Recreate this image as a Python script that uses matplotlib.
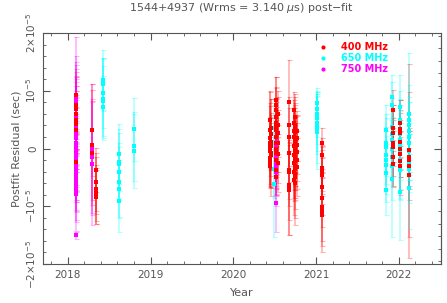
import numpy as np
import matplotlib
matplotlib.use('Agg')
import matplotlib.pyplot as plt
from matplotlib.ticker import MultipleLocator, FixedLocator

# residuals in microseconds, grouped by observing epoch (decimal year)
t400 = [2018.10, 2018.29, 2018.34, 2020.44, 2020.46, 2020.52, 2020.54,
        2020.67, 2020.73, 2020.75, 2020.77, 2021.07, 2021.93, 2022.02, 2022.12]
r400 = [[9.2, 7.5, 6.8, 6.0, 5.0, 4.2, 3.2, -2.3],
        [3.2, 0.6, -0.8],
        [-3.7, -5.8, -7.0, -7.4, -7.9, -8.4],
        [4.9, 3.2, 1.8, 0.9, 0.2, -0.5, -1.7, -2.3, -3.0],
        [3.5, 2.5, 1.2, 0.5, -0.8, -1.2],
        [8.4, 7.5, 6.6, 5.5, 4.5, 3.8, 3.2, 2.0, 0.9, 0.0, -0.8, -2.0, -3.8, -4.9],
        [6.0, 4.0, 2.6, 1.0, -1.0, -2.5],
        [8.1, 4.0, 2.0, -0.8, -3.8, -4.0, -6.4, -7.2, -6.8],
        [6.6, 4.4, 3.0, 2.0, 0.5, -1.2, -2.5, -4.1, -5.5],
        [5.5, 4.0, 3.5, 2.8, 1.5, 0.8, 0.0, -0.5, -1.5, -2.2, -3.0, -3.6, -4.5, -5.0, -6.0],
        [3.0, 1.8, 0.6, -0.6, -2.0, -3.2],
        [1.0, -1.2, -3.4, -3.8, -4.2, -4.6, -6.6, -8.6, -10.1, -10.9, -11.5],
        [6.6, 3.5, 2.6, 1.0, 0.2, -1.5, -2.6],
        [4.4, 3.4, 2.6, 1.2, 0.0, -1.0, -2.2, -3.0],
        [-0.3, -1.5, -2.0, -3.0, -4.6]]
e400 = [[4, 5, 4, 6, 5, 5, 4, 5],
        [8.0, 9.5, 9.0],
        [3.8, 5.0, 5.5, 4.0, 5.1, 4.6],
        [5.0, 6.5, 5.5, 7.0, 5.0, 6.0, 5.0, 4.3, 3.8],
        [5, 6, 5, 4, 6, 7],
        [3.9, 4.8, 4, 5, 4, 5, 4, 6, 5, 5, 6, 5, 4, 3.1],
        [4, 5, 4, 5, 5, 5],
        [7.2, 5, 5, 5, 5, 6, 6, 7.8, 8.2],
        [3.2, 4, 4, 5, 5, 6, 6, 5, 6],
        [4, 5, 4, 5, 4, 5, 4, 6, 5, 5, 6, 5, 6, 7, 7.3],
        [3.5, 4, 5, 5, 5, 5],
        [2.5, 3, 4, 4, 4, 5, 5, 5, 6, 6, 6.4],
        [3.5, 4, 5, 4, 5, 5, 4],
        [4, 5, 4, 5, 5, 4, 5, 5],
        [15.0, 5, 5, 6, 14.3]]

t650 = [2018.43, 2018.62, 2018.80, 2020.49, 2021.01, 2021.84, 2021.92, 2022.02, 2022.12]
r650 = [[11.8, 11.2, 9.6, 8.5, 8.2, 7.2],
        [-1.0, -2.3, -2.6, -4.0, -5.8, -7.0, -9.1],
        [3.3, 0.4, -0.5],
        [3.5, -3.5, -6.1],
        [7.8, 6.8, 6.0, 5.2, 4.5, 4.0, 3.5, 2.8],
        [3.2, 0.9, 0.2, -1.2, -2.0, -2.9, -4.3, -7.2],
        [9.0, 7.5, 3.7, 2.5, 1.5, 0.0, -1.5, -3.0, -5.2],
        [7.2, 5.0, 4.5, 2.5, 1.5, 0.5, -0.5, -2.0, -3.0, -3.8, -7.5],
        [6.0, 5.0, 4.0, 3.0, 2.0, 0.9, -0.5, -1.5, -2.5, -3.5, -6.9]]
e650 = [[5.3, 4.5, 6, 7, 6, 5.3],
        [5.2, 5, 6, 5, 6, 5, 5.3],
        [5.4, 6, 6.4],
        [4, 5, 9.2],
        [2.6, 3, 4, 4.5, 5, 5, 6, 6.3],
        [4.3, 5, 5, 5, 5, 5, 5, 4.3],
        [3.7, 4, 5, 5, 4, 5, 5, 6, 10.2],
        [5.5, 5, 4, 5, 5, 4, 5, 5, 6, 5, 8.3],
        [10.6, 6, 5, 5, 6, 5, 5, 4, 5, 6, 7]]

t750 = [2018.10, 2018.29, 2020.51]
r750 = [[9.0, 8.5, 8.0, 7.3, 6.8, 6.0, 5.5, 5.0, 4.4, 3.8, 3.0, 2.4, 1.8, 1.0, 0.4,
         -0.3, -1.0, -1.6, -2.3, -3.0, -3.6, -4.2, -4.8, -5.4, -6.0, -6.6, -7.2, -7.8, -15.0],
        [0.0, -1.5, -2.6],
        [0.2, -1.5, -2.5, -3.2, -4.0, -4.9, -9.5]]
e750 = [[10.3, 6, 8, 5, 7, 9, 6, 4, 8, 5, 7, 6, 9, 5, 4,
         6, 8, 5, 7, 6, 4, 5, 6, 7, 5, 4, 7, 5, 0.6],
        [11.2, 10, 10.7],
        [3, 3, 4, 5, 4, 5, 4.9]]

bands = [('400 MHz', t400, r400, e400, '#ff0000'),
         ('650 MHz', t650, r650, e650, '#00ffff'),
         ('750 MHz', t750, r750, e750, '#ff00ff')]


def flatten(t, r, e):
    xs, ys, es = [], [], []
    for ti, ri, ei in zip(t, r, e):
        xs += [ti] * len(ri)
        ys += ri
        es += ei
    return np.array(xs), np.array(ys) * 1e-6, np.array(es) * 1e-6


fig = plt.figure(figsize=(4.47, 3.03), dpi=100)
ax = fig.add_axes([43 / 447, 39 / 303, 398 / 447, 231 / 303])
grey = '#555555'

# error bars first, pale
for name, t, r, e, c in bands:
    x, y, err = flatten(t, r, e)
    ax.errorbar(x, y, yerr=err, fmt='none', ecolor=c, alpha=0.3,
                elinewidth=1.2, capsize=1.8, capthick=0.8)

# markers on top
for name, t, r, e, c in [bands[1], bands[2], bands[0]]:
    x, y, err = flatten(t, r, e)
    ax.plot(x, y, 's', color=c, ms=2.4, mew=0)

ax.set_xlim(2017.70, 2022.51)
ax.set_ylim(-2e-5, 2e-5)
ax.xaxis.set_major_locator(MultipleLocator(1))
ax.xaxis.set_minor_locator(MultipleLocator(0.2))
ax.yaxis.set_major_locator(FixedLocator([-2e-5, -1e-5, 0, 1e-5, 2e-5]))
ax.yaxis.set_minor_locator(MultipleLocator(2e-6))
ax.set_yticklabels([r'$-2{\times}10^{-5}$', r'$-10^{-5}$', '0',
                    r'$10^{-5}$', r'$2{\times}10^{-5}$'],
                   rotation=90, va='center')
ax.tick_params(which='both', direction='in', top=True, right=False,
               colors=grey, labelsize=7.5, labelcolor=grey)
ax.tick_params(which='major', length=5, width=0.8)
ax.tick_params(which='minor', length=2.5, width=0.6)
ax.tick_params(axis='x', pad=4)
for s in ax.spines.values():
    s.set_color(grey)
    s.set_linewidth(0.8)

# right axis ticks (pulse phase scale), labels fall outside the figure
sec = ax.secondary_yaxis('right', functions=(lambda v: v / 2.17e-6, lambda v: v * 2.17e-6))
sec.yaxis.set_major_locator(MultipleLocator(10))
sec.yaxis.set_minor_locator(MultipleLocator(1))
sec.tick_params(which='both', direction='in', colors=grey, labelright=False)
sec.tick_params(which='major', length=5)
sec.tick_params(which='minor', length=2.5)
sec.spines['right'].set_color(grey)

ax.set_xlabel('Year', color=grey, fontsize=8, labelpad=6)
ax.set_ylabel('Postfit Residual (sec)', color=grey, fontsize=8, labelpad=2)
ax.set_title(r'1544+4937 (Wrms = 3.140 $\mu$s) post$-$fit', color=grey,
             fontsize=8, pad=16)

# legend
for i, (name, t, r, e, c) in enumerate(bands):
    yy = 0.939 - i * 0.0475
    ax.plot(0.704, yy, 'o', color=c, ms=3, mew=0, transform=ax.transAxes)
    ax.text(0.749, yy, name, color=c, fontsize=7, fontweight='bold',
            va='center', transform=ax.transAxes)

plt.savefig('out.png', dpi=100)
